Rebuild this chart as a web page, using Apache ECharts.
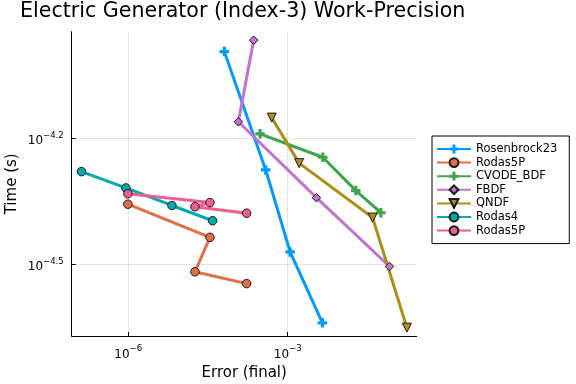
<!DOCTYPE html>
<html>
<head>
<meta charset="utf-8">
<script src="https://cdn.jsdelivr.net/npm/echarts@6/dist/echarts.min.js"></script>
<style>html,body{margin:0;padding:0;background:#fff}#c{width:576px;height:384px}</style>
</head>
<body>
<div id="c"></div>
<script>
// Values (error, time in seconds)
const rosenbrockErr = [6.43e-5, 3.86e-4, 1.11e-3, 4.50e-3];
const rosenbrockTime = [1.014e-4, 5.30e-5, 3.38e-5, 2.29e-5];
const rodas5pErr = [9.86e-7, 3.45e-5, 1.80e-5, 1.69e-4];
const rodas5pTime = [4.39e-5, 3.66e-5, 3.03e-5, 2.84e-5];
const cvodeErr = [3.02e-4, 4.57e-3, 1.91e-2, 5.65e-2];
const cvodeTime = [6.46e-5, 5.68e-5, 4.73e-5, 4.19e-5];
const fbdfErr = [2.29e-4, 1.18e-4, 3.47e-3, 8.22e-2];
const fbdfTime = [1.08e-4, 6.90e-5, 4.55e-5, 3.12e-5];
const qndfErr = [5.00e-4, 1.64e-3, 3.94e-2, 1.746e-1];
const qndfTime = [7.06e-5, 5.50e-5, 4.08e-5, 2.23e-5];
const rodas4Err = [1.32e-7, 9.04e-7, 6.64e-6, 3.87e-5];
const rodas4Time = [5.25e-5, 4.80e-5, 4.36e-5, 4.01e-5];
const rodas5pBErr = [9.86e-7, 3.45e-5, 1.80e-5, 1.69e-4];
const rodas5pBTime = [4.65e-5, 4.43e-5, 4.33e-5, 4.18e-5];

const seriesNames = ['Rosenbrock23', 'Rodas5P', 'CVODE_BDF', 'FBDF', 'QNDF', 'Rodas4', 'Rodas5P'];
const xTickExps = [-6, -3];
const yTickExps = [-4.5, -4.2];

const PLUS = 'path://M3,0H6V3H9V6H6V9H3V6H0V3H3Z';
const FONT = 'DejaVu Sans';

function pts(xs, ys) { return xs.map((x, i) => [Math.log10(x), Math.log10(ys[i])]); }

function mk(name, xs, ys, color, symbol, size, rotate, outline) {
  return {
    type: 'line', name: name, data: pts(xs, ys),
    symbol: symbol, symbolSize: size, symbolRotate: rotate || 0,
    showAllSymbol: true,
    lineStyle: { color: color, width: 3 },
    itemStyle: { color: color, borderColor: outline ? '#1a1a1a' : color, borderWidth: outline ? 1 : 0 },
    emphasis: { disabled: true }
  };
}

const series = [
  mk(seriesNames[0], rosenbrockErr, rosenbrockTime, '#009AFA', PLUS, 9.5, 0, false),
  mk(seriesNames[1], rodas5pErr, rodas5pTime, '#E36F47', 'circle', 8.5, 0, true),
  mk(seriesNames[2], cvodeErr, cvodeTime, '#3EA44E', PLUS, 9.5, 0, false),
  mk(seriesNames[3], fbdfErr, fbdfTime, '#C371D2', 'diamond', 8.5, 0, true),
  mk(seriesNames[4], qndfErr, qndfTime, '#AC8E18', 'triangle', 9, 180, true),
  mk(seriesNames[5], rodas4Err, rodas4Time, '#00A9AD', 'circle', 8.5, 0, true),
  mk(seriesNames[6] + ' ', rodas5pBErr, rodas5pBTime, '#ED5E93', 'circle', 8.5, 0, true)
];

function expLabel(v) { return '{b|10}{s|\u2212' + Math.abs(v) + '}'; }
const rich = {
  b: { fontFamily: FONT, fontSize: 12, lineHeight: 16, verticalAlign: 'bottom', color: '#000' },
  s: { fontFamily: FONT, fontSize: 8.5, lineHeight: 7, verticalAlign: 'top', color: '#000' }
};

const chart = echarts.init(document.getElementById('c'), null, { renderer: 'canvas' });
chart.setOption({
  animation: false,
  backgroundColor: '#fff',
  title: {
    text: 'Electric Generator (Index-3) Work-Precision',
    left: 20, top: 1, padding: 0,
    textStyle: { fontFamily: FONT, fontSize: 20.6, fontWeight: 'normal', color: '#000' }
  },
  legend: {
    orient: 'vertical', left: 432, top: 136,
    itemWidth: 34, itemHeight: 11, itemGap: 1.6,
    padding: [7, 12, 7, 4],
    borderColor: '#000', borderWidth: 1, backgroundColor: '#fff',
    textStyle: { fontFamily: FONT, fontSize: 11.5, color: '#000' },
    data: series.map(s => s.name)
  },
  grid: { left: 71.7, right: 159.3, top: 31.7, bottom: 48, containLabel: false, outerBoundsMode: 'none' },
  xAxis: {
    type: 'value', min: -7.0626, max: -0.574,
    name: 'Error (final)', nameLocation: 'middle', nameGap: 30, nameMoveOverlap: false,
    nameTextStyle: { fontFamily: FONT, fontSize: 15, color: '#000' },
    axisLine: { onZero: false, lineStyle: { color: '#000', width: 1 } },
    axisTick: { inside: true, length: 4, customValues: xTickExps, lineStyle: { color: '#000' } },
    axisLabel: { customValues: xTickExps, formatter: expLabel, rich: rich, margin: 8.5 },
    splitLine: { show: true, lineStyle: { color: 'rgba(0,0,0,0.1)', width: 1 } }
  },
  yAxis: {
    type: 'value', min: -4.6715, max: -3.9465,
    name: 'Time (s)', nameLocation: 'middle', nameGap: 52, nameRotate: 90, nameMoveOverlap: false,
    nameTextStyle: { fontFamily: FONT, fontSize: 15, color: '#000' },
    axisLine: { onZero: false, lineStyle: { color: '#000', width: 1 } },
    axisTick: { inside: true, length: 4, customValues: yTickExps, lineStyle: { color: '#000' } },
    axisLabel: { customValues: yTickExps, formatter: expLabel, rich: rich, margin: 8, padding: [2, 0, 0, 0] },
    splitLine: { show: true, lineStyle: { color: 'rgba(0,0,0,0.1)', width: 1 } }
  },
  series: series
});
</script>
</body>
</html>
